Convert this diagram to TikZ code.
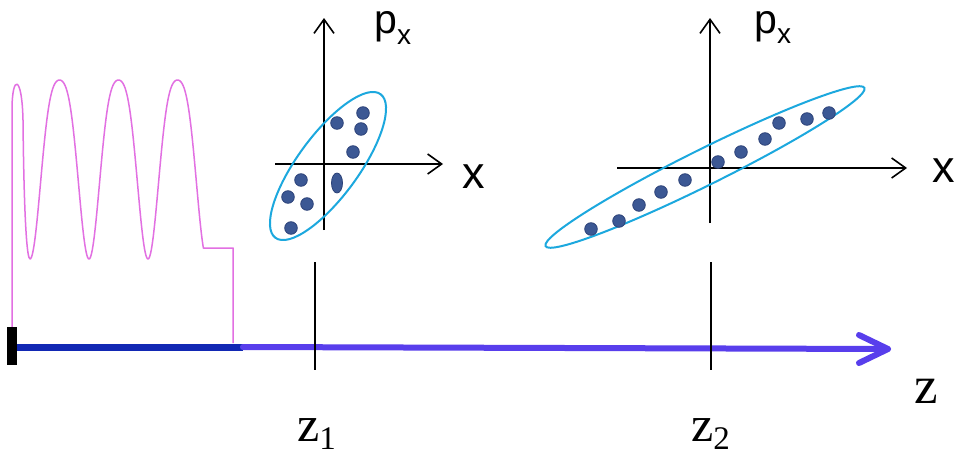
\documentclass[tikz,border=0pt]{standalone}
\usepackage{fontspec}
\setmainfont{Liberation Serif}
\newfontfamily\sansf{Liberation Sans}
\usetikzlibrary{arrows.meta,shapes.geometric}
\definecolor{pinkw}{RGB}{226,112,226}
\definecolor{darkbl}{RGB}{18,40,180}
\definecolor{arrbl}{RGB}{88,62,236}
\definecolor{ellc}{RGB}{28,168,222}
\definecolor{dotc}{RGB}{60,88,148}
\definecolor{dotd}{RGB}{44,66,120}
\begin{document}
\begin{tikzpicture}[x=1pt,y=-1pt,
  axisline/.style={line width=1.6pt,-{Straight Barb[length=14pt,width=20pt]}},
  beam/.style={draw=ellc,line width=2pt,ellipse,inner sep=0pt},
  tick/.style={line width=2.6pt},
  dot/.style={fill=dotc,draw=dotd,line width=0.8pt},
  serlab/.style={anchor=base west,inner sep=0pt,font=\fontsize{50}{50}\selectfont},
  sanslab/.style={anchor=base west,inner sep=0pt,font=\sansf\fontsize{45}{45}\selectfont},
  pxlab/.style={anchor=base west,inner sep=0pt,font=\sansf\fontsize{41}{41}\selectfont}]
\useasboundingbox[fill=white] (0,0) rectangle (954,455);

% undulator wave
\draw[pinkw,line width=1.5pt,line join=round]
  (12,327) -- (12,110) .. controls (12,74) and (22,74) .. (23,120)
  .. controls (24,220) and (27,259) .. (30,259)
  -- plot[domain=30:203.4,samples=260] (\x,{169.5+89.5*cos(6.10169*(\x-30))-31.3*(sin(6.10169*(\x-30)))^2})
  -- (233,248) -- (233,343);

% beam line
\coordinate (bl0) at (17,347);
\coordinate (bl1) at (243,347);
\coordinate (tip) at (888,349);
\fill[black] (7,327) rectangle (17,365);
\draw[darkbl,line width=7pt] (bl0) -- (bl1);
\draw[arrbl,line width=6pt,line cap=round] (bl1) -- (tip);
\draw[arrbl,line width=6pt,line cap=round,line join=round] (859,335) -- (tip) -- (859,363);

% ticks
\coordinate (t1a) at (315,262); \coordinate (t1b) at (315,370);
\coordinate (t2a) at (711,262); \coordinate (t2b) at (711,370);
\draw[tick] (t1a) -- (t1b);
\draw[tick] (t2a) -- (t2b);

% labels on z axis
\node[serlab] (z1) at (297,441) {z\raisebox{-8pt}{\fontsize{33}{33}\selectfont 1}};
\node[serlab] (z2) at (691,441) {z\raisebox{-8pt}{\fontsize{33}{33}\selectfont 2}};
\node[serlab,font=\fontsize{53}{53}\selectfont] (zz) at (914,403) {z};

% phase space 1
\coordinate (a1b) at (324,230); \coordinate (a1t) at (324,18);
\coordinate (h1l) at (275,164); \coordinate (h1r) at (443,164);
\draw[axisline] (a1b) -- (a1t);
\draw[axisline] (h1l) -- (h1r);
\node[beam,minimum width=178pt,minimum height=61pt,rotate=53.8] (e1) at (328,166) {};
\foreach \p in {(337,123),(363,113),(361,129),(353,152),(301,180),(288,197),(307,204),(291,228)}
  \draw[dot] \p circle[radius=6.3pt];
\draw[dot] (337,183) ellipse[x radius=5.5pt,y radius=10pt];
\node[pxlab] (p1) at (374,34) {p\raisebox{-10pt}{\fontsize{28}{28}\selectfont x}};
\node[sanslab] (x1) at (462,188) {x};

% phase space 2
\coordinate (a2b) at (710,223); \coordinate (a2t) at (710,18);
\coordinate (h2l) at (617,168); \coordinate (h2r) at (907,168);
\draw[axisline] (a2b) -- (a2t);
\draw[axisline] (h2l) -- (h2r);
\node[beam,minimum width=356pt,minimum height=36pt,rotate=26.4] (e2) at (705,167) {};
\foreach \p in {(591,229),(619,221),(639,205),(661,192),(685,180),(718,162),(741,152),(765,139),(779,123),(807,119),(829,113)}
  \draw[dot] \p circle[radius=6.3pt];
\node[pxlab] (p2) at (754,33) {p\raisebox{-10pt}{\fontsize{28}{28}\selectfont x}};
\node[sanslab] (x2) at (932,182) {x};
\end{tikzpicture}
\end{document}
